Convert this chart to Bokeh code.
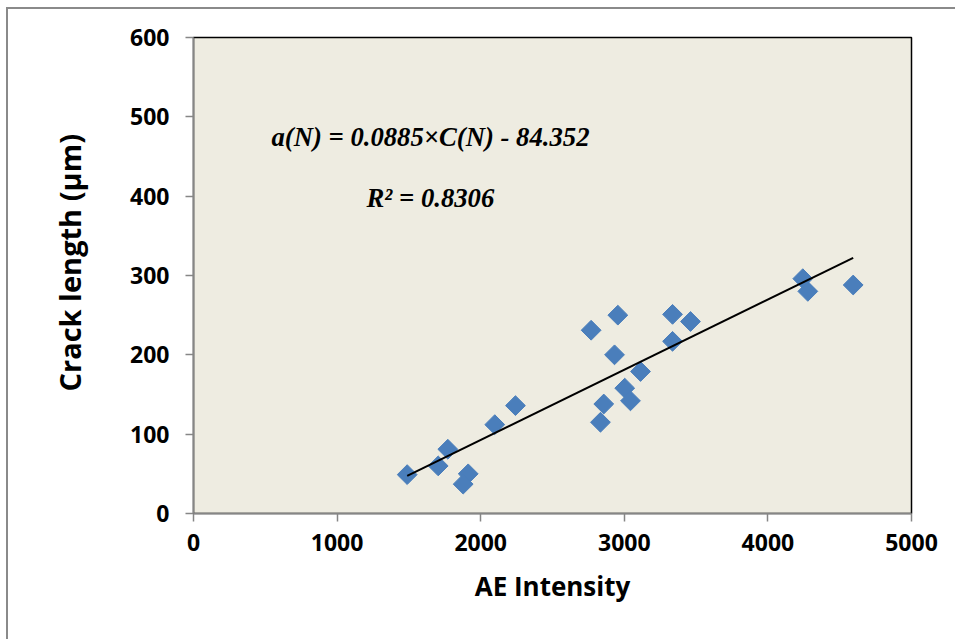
import numpy as np
from bokeh.plotting import figure
from bokeh.models import Range1d, FixedTicker, ColumnDataSource, Title
from bokeh.core.properties import value
from bokeh.embed import file_html
from bokeh.resources import INLINE

# Data
ae_intensity = [1488, 1704, 1771, 1913, 1878, 2098, 2242, 2769, 2955, 2932, 2857,
                2834, 3003, 3043, 3113, 3336, 3461, 3336, 4243, 4278, 4594]
crack_length = [49, 60, 81, 50, 37, 112, 136, 231, 250, 200, 138,
                115, 158, 142, 179, 251, 242, 217, 296, 280, 288]
fit_slope = 0.0885
fit_intercept = -84.352
x_ticks = [0, 1000, 2000, 3000, 4000, 5000]
y_ticks = [0, 100, 200, 300, 400, 500, 600]
eq_text = ["a(N) = 0.0885×C(N) - 84.352"]
r2_text = ["R² = 0.8306"]
eq_pos = (543, 474)
r2_pos = (1205, 398)
y_title = "Crack length (µm)"

p = figure(width=949, height=632, output_backend="svg", toolbar_location=None,
           x_range=Range1d(0, 5000), y_range=Range1d(0, 600),
           min_border_left=185, min_border_top=28, min_border_right=46,
           min_border_bottom=128)
p.margin = (7, 0, 0, 6)
p.styles = {"border-left": "2px solid #8a8a8a", "border-top": "2px solid #8a8a8a"}

p.background_fill_color = "#EEECE1"
p.border_fill_color = "white"
p.outline_line_color = "black"
p.outline_line_width = 1.5
p.grid.visible = False

for ax in (p.xaxis[0], p.yaxis[0]):
    ax.axis_line_color = "#868686"
    ax.axis_line_width = 1.5
    ax.major_tick_line_color = "#868686"
    ax.major_tick_line_width = 1.5
    ax.major_tick_out = 8
    ax.major_tick_in = 0
    ax.minor_tick_line_color = None
    ax.major_label_text_font = "Open Sans"
    ax.major_label_text_font_style = "bold"
    ax.major_label_text_font_size = "23px"
    ax.major_label_text_color = "black"
    ax.axis_label_text_font = "Open Sans"
    ax.axis_label_text_font_style = "bold"
    ax.axis_label_text_font_size = "26px"
    ax.axis_label_text_color = "black"

p.xaxis.ticker = FixedTicker(ticks=x_ticks)
p.yaxis.ticker = FixedTicker(ticks=y_ticks)
p.xaxis.axis_label = "AE Intensity"
p.yaxis.major_label_standoff = 16
p.xaxis.major_label_standoff = 12
p.xaxis.axis_label_standoff = 14

p.add_layout(Title(text=y_title, align="left", offset=122, standoff=78,
                   text_font="Open Sans", text_font_style="bold", text_font_size="29px",
                   text_color="black"), "left")

src = ColumnDataSource(dict(x=ae_intensity, y=crack_length))
p.scatter("x", "y", source=src, marker="square", size=14, angle=np.pi / 4,
          fill_color="#4A7EBB", line_color="#4A7EBB", line_width=1)

x_fit = [min(ae_intensity), max(ae_intensity)]
y_fit = [fit_slope * v + fit_intercept for v in x_fit]
p.line(x_fit, y_fit, line_color="black", line_width=2)

p.text(x=[eq_pos[0]], y=[eq_pos[1]], text=eq_text, text_font=value("Liberation Serif"),
       text_font_style="bold italic", text_font_size="26.7px", text_baseline="alphabetic",
       text_align="left", text_color="black")
p.text(x=[r2_pos[0]], y=[r2_pos[1]], text=r2_text, text_font=value("Liberation Serif"),
       text_font_style="bold italic", text_font_size="26.7px", text_baseline="alphabetic",
       text_align="left", text_color="black")

open("out.html", "w").write(file_html(p, INLINE))
